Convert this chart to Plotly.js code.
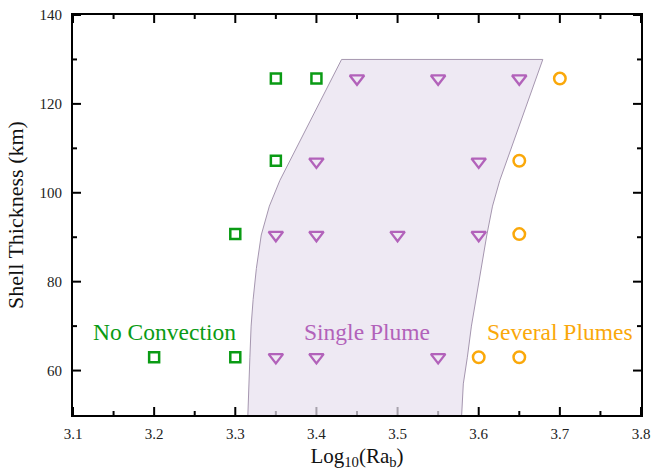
<!DOCTYPE html>
<html>
<head>
<meta charset="utf-8">
<script src="https://cdn.plot.ly/plotly-3.0.1.min.js"></script>
<style>html,body{margin:0;padding:0;background:#fff;}#chart{width:652px;height:470px;}</style>
</head>
<body>
<div id="chart"></div>
<script>
// Regime boundaries (Log10 Ra_b vs shell thickness)
var leftEdgeX = [3.3155, 3.3165, 3.318, 3.3195, 3.322, 3.326, 3.332, 3.342, 3.355, 3.431];
var leftEdgeY = [50, 57, 63, 70, 76, 83, 90.5, 97, 102.8, 130];
var rightEdgeX = [3.679, 3.626, 3.617, 3.610, 3.603, 3.597, 3.591, 3.586, 3.581, 3.579];
var rightEdgeY = [130, 102.8, 97, 90.5, 83, 76, 70, 63, 57, 50];

// No convection (squares)
var noConvX = [3.2, 3.3, 3.3, 3.35, 3.35, 3.4];
var noConvY = [63, 63, 90.7, 107.2, 125.7, 125.7];

// Single plume (down triangles)
var singleX = [3.35, 3.4, 3.55, 3.35, 3.4, 3.5, 3.6, 3.4, 3.6, 3.45, 3.55, 3.65];
var singleY = [63, 63, 63, 90.5, 90.5, 90.5, 90.5, 107, 107, 125.7, 125.7, 125.7];

// Several plumes (circles)
var severalX = [3.6, 3.65, 3.65, 3.65, 3.7];
var severalY = [63, 63, 90.7, 107.2, 125.7];

var labels = ['No Convection', 'Single Plume', 'Several Plumes'];
var labelX = [3.213, 3.462, 3.7];
var labelY = [68.7, 68.7, 68.7];

// Tick positions
var xMajorTicks = [3.1, 3.2, 3.3, 3.4, 3.5, 3.6, 3.7, 3.8];
var xMinorTicks = [3.15, 3.25, 3.35, 3.45, 3.55, 3.65, 3.75];
var yMajorTicks = [60, 80, 100, 120, 140];
var yMinorTicks = [70, 90, 110, 130];

var xRange = [3.1, 3.8];
var yRange = [50, 140];

var green = 'rgb(10,155,20)';
var purple = 'rgb(178,98,186)';
var orange = 'rgb(250,168,10)';
var colors = [green, purple, orange];

var W = 652, H = 470, M = {l: 73, r: 11, t: 15, b: 55};
var plotW = W - M.l - M.r, plotH = H - M.t - M.b;
var xPerPx = (xRange[1] - xRange[0]) / plotW;
var yPerPx = (yRange[1] - yRange[0]) / plotH;

// Inside tick marks on all four sides, as null-separated segments
var tickX = [], tickY = [];
function addXTicks(vals, px) {
  vals.forEach(function (v) {
    tickX.push(v, v, null, v, v, null);
    tickY.push(yRange[0], yRange[0] + px * yPerPx, null, yRange[1], yRange[1] - px * yPerPx, null);
  });
}
function addYTicks(vals, px) {
  vals.forEach(function (v) {
    tickY.push(v, v, null, v, v, null);
    tickX.push(xRange[0], xRange[0] + px * xPerPx, null, xRange[1], xRange[1] - px * xPerPx, null);
  });
}
addXTicks(xMajorTicks, 8);
addXTicks(xMinorTicks, 4);
addYTicks(yMajorTicks, 8);
addYTicks(yMinorTicks, 4);

var traces = [
  {x: tickX, y: tickY, mode: 'lines', line: {color: 'black', width: 2},
   connectgaps: false, hoverinfo: 'skip', showlegend: false, cliponaxis: false},
  {
    x: leftEdgeX.concat(rightEdgeX),
    y: leftEdgeY.concat(rightEdgeY),
    mode: 'lines', fill: 'toself',
    fillcolor: 'rgba(232,224,238,0.72)',
    line: {color: 'rgb(165,150,175)', width: 1},
    hoverinfo: 'skip', showlegend: false
  },
  {x: noConvX, y: noConvY, mode: 'markers', showlegend: false,
   marker: {symbol: 'square-open', size: 10, color: green, line: {width: 2.5, color: green}}},
  {x: singleX, y: singleY, mode: 'markers', showlegend: false,
   marker: {symbol: 'triangle-down-open', size: 12.5, color: purple, line: {width: 2.3, color: purple}}},
  {x: severalX, y: severalY, mode: 'markers', showlegend: false,
   marker: {symbol: 'circle-open', size: 11.5, color: orange, line: {width: 2.5, color: orange}}}
];

var serif = 'Liberation Serif';
var annotations = labels.map(function (t, i) {
  return {x: labelX[i], y: labelY[i], xref: 'x', yref: 'y', text: t, showarrow: false,
          font: {family: serif, size: 23.5, color: colors[i]}};
});

var layout = {
  width: W, height: H,
  margin: M,
  paper_bgcolor: '#ffffff', plot_bgcolor: '#ffffff',
  showlegend: false,
  font: {family: serif},
  xaxis: {
    range: xRange, tickmode: 'array', tickvals: xMajorTicks, tickformat: '.1f',
    showgrid: false, zeroline: false,
    showline: true, linecolor: 'black', linewidth: 2, mirror: true,
    ticks: '', ticklabelstandoff: 4,
    tickfont: {family: serif, size: 15, color: '#222'},
    title: {text: 'Log<sub>10</sub>(Ra<sub>b</sub>)', font: {family: serif, size: 21, color: '#111'}, standoff: 12}
  },
  yaxis: {
    range: yRange, tickmode: 'array', tickvals: yMajorTicks,
    showgrid: false, zeroline: false,
    showline: true, linecolor: 'black', linewidth: 2, mirror: true,
    ticks: '', ticklabelstandoff: 6,
    tickfont: {family: serif, size: 15, color: '#222'},
    title: {text: 'Shell Thickness (km)', font: {family: serif, size: 22, color: '#111'}, standoff: 10}
  },
  annotations: annotations
};

Plotly.newPlot('chart', traces, layout, {displayModeBar: false, staticPlot: true});
</script>
</body>
</html>
